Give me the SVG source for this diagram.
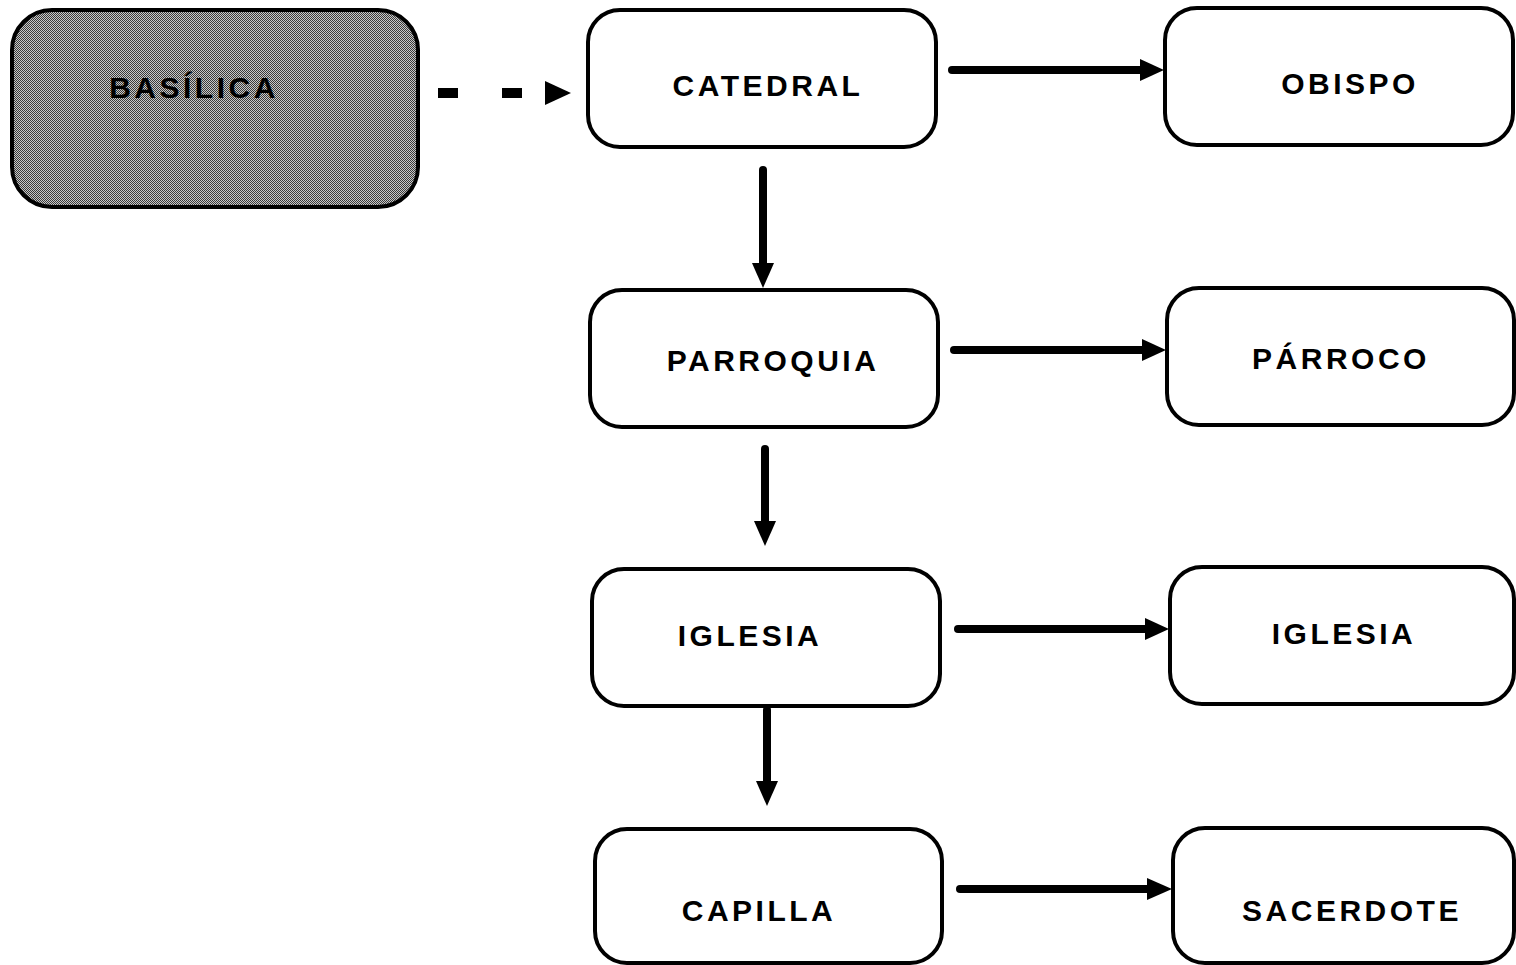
<svg xmlns="http://www.w3.org/2000/svg" width="1516" height="965" viewBox="0 0 1516 965">
<defs>
<pattern id="dither" width="2" height="2" patternUnits="userSpaceOnUse">
<rect width="2" height="2" fill="#c8c8c8"/>
<rect x="0" y="0" width="1" height="1" fill="#3a3a3a"/>
<rect x="1" y="1" width="1" height="1" fill="#3a3a3a"/>
</pattern>
</defs>
<style>
.box{fill:#fff;stroke:#000;stroke-width:4}
.lbl{font-family:"Liberation Sans",Arial,sans-serif;font-weight:bold;font-size:30px;letter-spacing:3.5px;fill:#000;text-anchor:middle}
.conn{stroke:#000;stroke-width:8;stroke-linecap:round;fill:none}
.head{fill:#000}
</style>
<rect width="1516" height="965" fill="#fff"/>
<g id="basilica">
<rect x="12" y="10" width="406" height="197" rx="40" fill="url(#dither)" stroke="#000" stroke-width="4"/>
<text class="lbl" x="194" y="98">BASÍLICA</text>
</g>
<g id="catedral"><rect class="box" x="588" y="10" width="348" height="137" rx="32"/><text class="lbl" x="768" y="96">CATEDRAL</text></g>
<g id="obispo"><rect class="box" x="1165" y="8" width="348" height="137" rx="32"/><text class="lbl" x="1350" y="94">OBISPO</text></g>
<g id="parroquia"><rect class="box" x="590" y="290" width="348" height="137" rx="32"/><text class="lbl" x="773" y="371">PARROQUIA</text></g>
<g id="parroco"><rect class="box" x="1167" y="288" width="347" height="137" rx="32"/><text class="lbl" x="1341" y="369">PÁRROCO</text></g>
<g id="iglesia1"><rect class="box" x="592" y="569" width="348" height="137" rx="32"/><text class="lbl" x="750" y="646">IGLESIA</text></g>
<g id="iglesia2"><rect class="box" x="1170" y="567" width="344" height="137" rx="32"/><text class="lbl" x="1344" y="644">IGLESIA</text></g>
<g id="capilla"><rect class="box" x="595" y="829" width="347" height="134" rx="32"/><text class="lbl" x="759" y="921">CAPILLA</text></g>
<g id="sacerdote"><rect class="box" x="1173" y="828" width="341" height="135" rx="32"/><text class="lbl" x="1352" y="921">SACERDOTE</text></g>
<g id="connectors">
<line x1="438" y1="93" x2="458" y2="93" stroke="#000" stroke-width="10"/>
<line x1="502" y1="93" x2="522" y2="93" stroke="#000" stroke-width="10"/>
<path class="head" d="M545,81 L571,93 L545,105 Z"/>
<line class="conn" x1="952" y1="70" x2="1143" y2="70"/>
<path class="head" d="M1140,59 L1164,70 L1140,81 Z"/>
<line class="conn" x1="763" y1="170" x2="763" y2="266"/>
<path class="head" d="M752,263 L763,288 L774,263 Z"/>
<line class="conn" x1="954" y1="350" x2="1145" y2="350"/>
<path class="head" d="M1142,339 L1166,350 L1142,361 Z"/>
<line class="conn" x1="765" y1="449" x2="765" y2="524"/>
<path class="head" d="M754,521 L765,546 L776,521 Z"/>
<line class="conn" x1="958" y1="629" x2="1148" y2="629"/>
<path class="head" d="M1145,618 L1169,629 L1145,640 Z"/>
<line class="conn" x1="767" y1="710" x2="767" y2="784"/>
<path class="head" d="M756,781 L767,806 L778,781 Z"/>
<line class="conn" x1="960" y1="889" x2="1150" y2="889"/>
<path class="head" d="M1147,878 L1172,889 L1147,900 Z"/>
</g>
</svg>
